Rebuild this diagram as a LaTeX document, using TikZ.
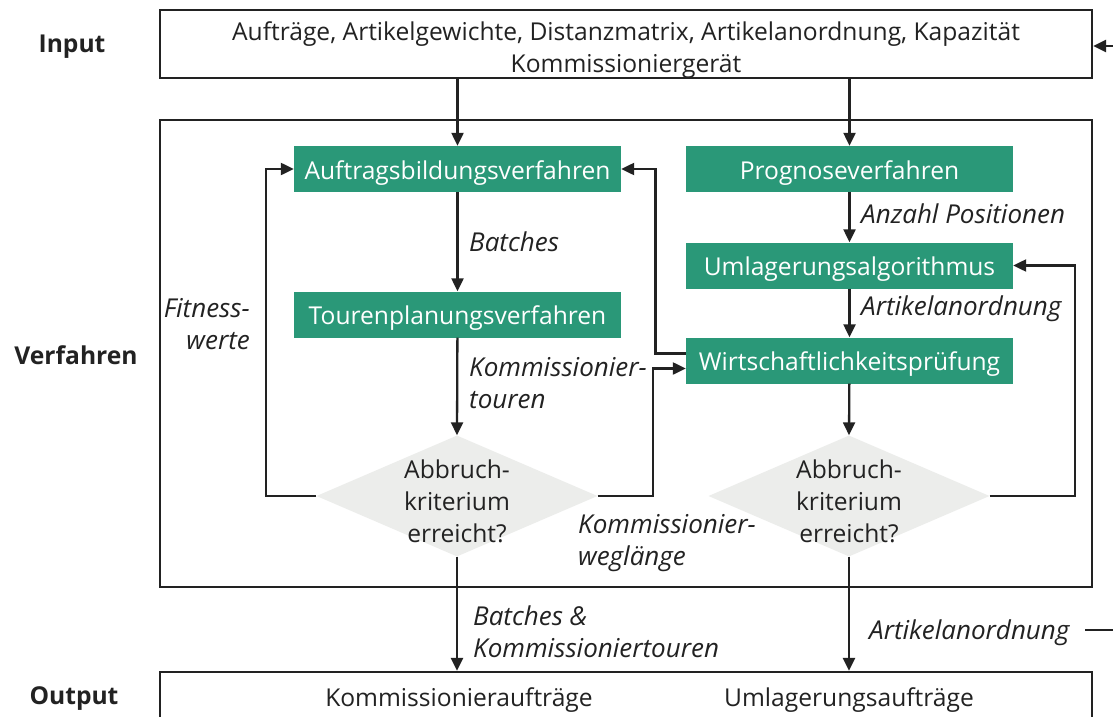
\documentclass[tikz,border=0pt]{standalone}
\usepackage{fontspec}
\setmainfont{Open Sans}
\usetikzlibrary{arrows.meta,shapes.geometric}
\definecolor{fhgreen}{HTML}{2A9878}
\definecolor{diagray}{HTML}{ECEDEB}
\definecolor{ink}{HTML}{222222}
\begin{document}
\begin{tikzpicture}[x=1pt,y=-1pt,
  every node/.style={font=\fontsize{24.6}{32}\selectfont, text=ink},
  boxframe/.style={draw=ink, line width=2.3pt, inner sep=0},
  proc/.style={fill=fhgreen, text=white, minimum width=327pt, minimum height=46pt, inner sep=0,
    text height=24pt, text depth=4pt},
  decide/.style={diamond, fill=diagray, minimum width=281pt, minimum height=121pt, inner sep=0},
  flow/.style={draw=ink, line width=2.3pt, -{Triangle[length=13pt,width=12pt]}},
  conn/.style={draw=ink, line width=2.3pt},
  notetext/.style={font=\fontsize{26}{32}\selectfont\itshape, align=left, anchor=west, inner sep=0},
  sidelabel/.style={font=\fontsize{24.6}{32}\selectfont\bfseries, inner sep=0}]
\clip (0,0) rectangle (1113,717);
\fill[white] (0,0) rectangle (1113,717);

% row labels
\node[sidelabel] (lin) at (72,47) {Input};
\node[sidelabel] (lverf) at (76,355) {Verfahren};
\node[sidelabel] (lout) at (74,699) {Output};

% frames
\node[boxframe, minimum width=932pt, minimum height=68pt] (input) at (626,44) {};
\node[align=center, inner sep=0] (inputText) at (626,50)
  {Aufträge, Artikelgewichte, Distanzmatrix, Artikelanordnung, Kapazität\\Kommissioniergerät};
\node[boxframe, minimum width=932pt, minimum height=467pt] (verf) at (626,353.5) {};
\node[boxframe, minimum width=932pt, minimum height=68pt] (output) at (626,706) {};
\node (outA) at (459,700) {Kommissionieraufträge};
\node (outB) at (849,700) {Umlagerungsaufträge};

% process steps
\node[proc] (auf) at (457.5,169) {Auftragsbildungsverfahren};
\node[proc] (tour) at (457.5,314.5) {Tourenplanungsverfahren};
\node[proc] (prog) at (849.5,169) {Prognoseverfahren};
\node[proc] (uml) at (849.5,265.5) {Umlagerungsalgorithmus};
\node[proc] (wirt) at (849.5,360.5) {Wirtschaftlichkeitsprüfung};

% decisions
\node[decide] (d1) at (457,496) {};
\node[align=center, inner sep=0] (d1t) at (457,501) {Abbruch-\\kriterium\\erreicht?};
\node[decide] (d2) at (849,496) {};
\node[align=center, inner sep=0] (d2t) at (849,501) {Abbruch-\\kriterium\\erreicht?};

% main flow
\draw[flow] (input.south -| auf.north) -- (auf.north);
\draw[flow] (input.south -| prog.north) -- (prog.north);
\draw[flow] (auf) -- (tour);
\draw[flow] (tour) -- (d1.north);
\draw[flow] (prog) -- (uml);
\draw[flow] (uml) -- (wirt);
\draw[flow] (wirt) -- (d2.north);
\draw[flow] (d1.south) -- (d1.south |- output.north);
\draw[flow] (d2.south) -- (d2.south |- output.north);

% feedback loops
\draw[flow] (d1.west) -- (266,496) |- (auf.west);
\draw[flow] (d1.east) -- (653,496) |- ([yshift=-8pt]wirt.west);
\draw[flow] ([yshift=7pt]wirt.west) -- (655.5,353.5) |- (auf.east);
\draw[flow] (d2.east) -- (1075,496) |- (uml.east);

% connections leaving the figure
\coordinate (feedIn) at (1113,46);
\draw[flow] (feedIn) -- (feedIn -| input.east);
\coordinate (aoA) at (1085,630);
\coordinate (aoB) at (1113,630);
\draw[conn] (aoA) -- (aoB);

% edge labels
\node[notetext] (lb1) at (469,242) {Batches};
\node[notetext] (lb2) at (469,383) {Kommissionier-\\touren};
\node[notetext] (lb3) at (861,214) {Anzahl Positionen};
\node[notetext] (lb4) at (861,309) {Artikelanordnung};
\node[notetext, align=right, anchor=east] (lb5) at (250,324) {Fitness-\\werte};
\node[notetext] (lb6) at (578,543) {Kommissionier-\\weglänge};
\node[notetext] (lb7) at (473,632) {Batches \&\\Kommissioniertouren};
\node[notetext] (lb8) at (869,633) {Artikelanordnung};
\end{tikzpicture}
\end{document}
